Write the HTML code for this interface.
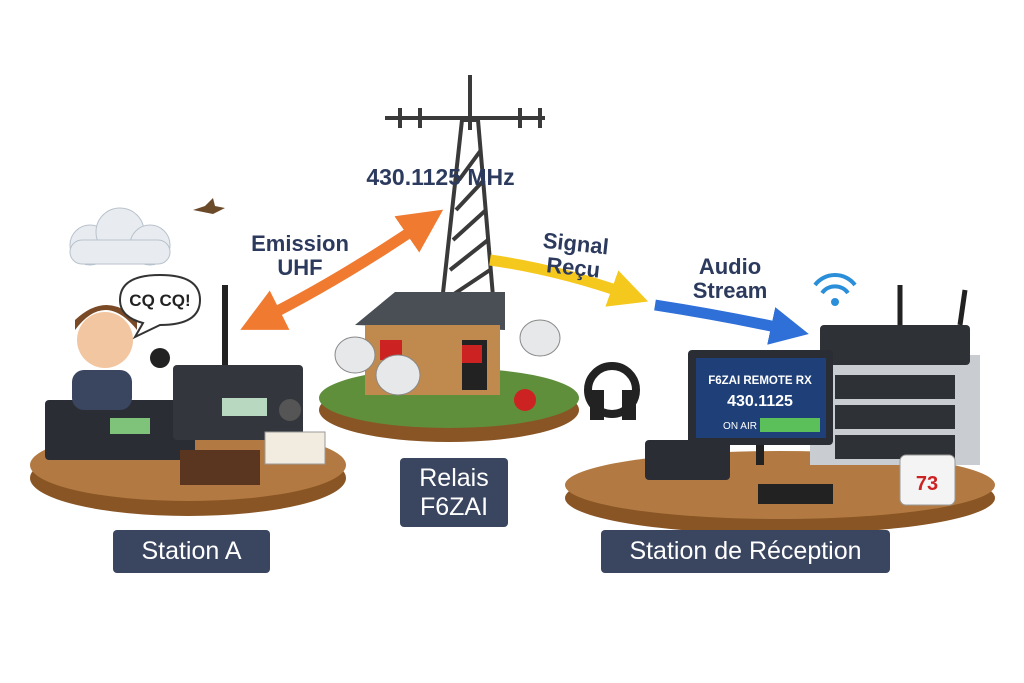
<!DOCTYPE html>
<html><head><meta charset="utf-8"><style>
body{margin:0;width:1024px;height:683px;background:#fff;overflow:hidden;position:relative;font-family:"Liberation Sans",sans-serif}
.lbl{position:absolute;background:#3a4560;color:#fff;border-radius:4px;font-size:25px;display:flex;align-items:center;justify-content:center;text-align:center;line-height:29px}
.t{position:absolute;color:#2c3a5e;font-weight:bold;font-size:22px;line-height:24px;text-align:center}
</style></head><body>
<svg width="1024" height="683" style="position:absolute;left:0;top:0">
<g fill="#e8ecf0" stroke="#b8c2cc"><circle cx="90" cy="245" r="20"/><circle cx="120" cy="232" r="24"/><circle cx="150" cy="245" r="20"/><rect x="70" y="240" width="100" height="24" rx="12"/></g>
<path d="M193 210 l12 -4 l8 -8 l2 8 l10 2 l-12 6 z" fill="#6b4a2a"/>
<ellipse cx="188" cy="478" rx="158" ry="38" fill="#8a5524"/><ellipse cx="188" cy="465" rx="158" ry="36" fill="#b27a42"/>
<ellipse cx="449" cy="410" rx="130" ry="32" fill="#8a5524"/><ellipse cx="449" cy="398" rx="130" ry="30" fill="#5f8f3a"/>
<ellipse cx="780" cy="498" rx="215" ry="36" fill="#8a5524"/><ellipse cx="780" cy="485" rx="215" ry="34" fill="#b27a42"/>
<rect x="45" y="400" width="150" height="60" rx="4" fill="#2a2d33"/><rect x="110" y="418" width="40" height="16" fill="#7fc27a"/>
<rect x="173" y="365" width="130" height="75" rx="4" fill="#33363c"/><rect x="222" y="398" width="45" height="18" fill="#b8d8c0"/><circle cx="290" cy="410" r="11" fill="#555"/>
<line x1="225" y1="285" x2="225" y2="365" stroke="#222" stroke-width="6"/>
<rect x="180" y="450" width="80" height="35" fill="#5a3520"/><rect x="265" y="432" width="60" height="32" fill="#f2ece0" stroke="#999"/>
<circle cx="105" cy="340" r="28" fill="#f2c6a0"/><path d="M75 330 q30 -40 62 0 l0-10 q-30-30-62 0z" fill="#7a4a26"/>
<rect x="72" y="370" width="60" height="40" rx="12" fill="#3a4560"/>
<circle cx="160" cy="358" r="10" fill="#222"/>
<path d="M120 300 q0 -25 40 -25 q40 0 40 25 q0 25 -40 25 l-25 12 8 -14 q-23 -6 -23 -23z" fill="#fff" stroke="#333" stroke-width="2"/>
<text x="160" y="306" font-family="Liberation Sans" font-weight="bold" font-size="17" text-anchor="middle" fill="#222">CQ CQ!</text>
<g stroke="#3a3a3a" stroke-width="4" fill="none"><path d="M440 320 L462 120 L478 120 L495 320"/><path d="M445 300 L490 270 M450 270 L488 240 M453 240 L486 210 M456 210 L484 180 M459 180 L481 150"/>
<line x1="470" y1="75" x2="470" y2="130"/><line x1="385" y1="118" x2="545" y2="118"/><line x1="400" y1="108" x2="400" y2="128"/><line x1="420" y1="108" x2="420" y2="128"/><line x1="520" y1="108" x2="520" y2="128"/><line x1="540" y1="108" x2="540" y2="128"/></g>
<polygon points="355,325 395,292 505,292 505,330" fill="#4a4e55"/>
<rect x="365" y="325" width="135" height="70" fill="#c08a4e"/><rect x="380" y="340" width="22" height="20" fill="#c22"/><rect x="462" y="340" width="25" height="50" fill="#222"/><rect x="462" y="345" width="20" height="18" fill="#c22"/>
<g fill="#e6e8ea" stroke="#888"><ellipse cx="355" cy="355" rx="20" ry="18"/><ellipse cx="398" cy="375" rx="22" ry="20"/><ellipse cx="540" cy="338" rx="20" ry="18"/></g>
<circle cx="525" cy="400" r="11" fill="#c22"/>
<defs><marker id="o" viewBox="0 0 10 10" refX="5" refY="5" markerWidth="4" markerHeight="4" orient="auto-start-reverse"><path d="M0 0L10 5L0 10z" fill="#f07a30"/></marker>
<marker id="y" viewBox="0 0 10 10" refX="5" refY="5" markerWidth="3.5" markerHeight="3.5" orient="auto"><path d="M0 0L10 5L0 10z" fill="#f5c81e"/></marker>
<marker id="b" viewBox="0 0 10 10" refX="5" refY="5" markerWidth="3.5" markerHeight="3.5" orient="auto"><path d="M0 0L10 5L0 10z" fill="#2f6fd8"/></marker></defs>
<path d="M260 320 Q340 280 425 222" stroke="#f07a30" stroke-width="11" fill="none" marker-start="url(#o)" marker-end="url(#o)"/>
<path d="M490 260 Q560 270 630 295" stroke="#f5c81e" stroke-width="11" fill="none" marker-end="url(#y)"/>
<path d="M655 305 Q720 315 790 330" stroke="#2f6fd8" stroke-width="11" fill="none" marker-end="url(#b)"/>
<circle cx="612" cy="390" r="24" fill="none" stroke="#222" stroke-width="8"/><rect x="590" y="390" width="14" height="30" fill="#222"/><rect x="622" y="390" width="14" height="30" fill="#222"/>
<rect x="810" y="355" width="170" height="110" fill="#c9ccd0"/><rect x="820" y="325" width="150" height="40" rx="4" fill="#2e3136"/>
<line x1="900" y1="285" x2="900" y2="325" stroke="#222" stroke-width="5"/><line x1="965" y1="290" x2="960" y2="325" stroke="#222" stroke-width="5"/>
<rect x="835" y="375" width="120" height="24" fill="#2e3136"/><rect x="835" y="405" width="120" height="24" fill="#2e3136"/><rect x="835" y="435" width="120" height="24" fill="#2e3136"/>
<rect x="688" y="350" width="145" height="95" rx="4" fill="#2a2d33"/><rect x="696" y="358" width="130" height="80" fill="#1f3f78"/>
<text x="760" y="384" font-family="Liberation Sans" font-weight="bold" font-size="11.5" fill="#fff" text-anchor="middle">F6ZAI REMOTE RX</text>
<text x="760" y="406" font-family="Liberation Sans" font-weight="bold" font-size="16" fill="#fff" text-anchor="middle">430.1125</text>
<rect x="760" y="418" width="60" height="14" fill="#5cc05a"/><text x="740" y="429" font-family="Liberation Sans" font-size="10" fill="#fff" text-anchor="middle">ON AIR</text>
<line x1="760" y1="445" x2="760" y2="465" stroke="#222" stroke-width="8"/>
<rect x="645" y="440" width="85" height="40" rx="4" fill="#2a2d33"/><rect x="758" y="484" width="75" height="20" fill="#222"/>
<path d="M815 285 a25 25 0 0 1 40 0 M822 293 a16 16 0 0 1 26 0" stroke="#2a8fd8" stroke-width="4" fill="none"/><circle cx="835" cy="302" r="4" fill="#2a8fd8"/>
<rect x="900" y="455" width="55" height="50" rx="6" fill="#f4f4f4" stroke="#999"/>
<text x="927" y="490" font-family="Liberation Sans" font-weight="bold" font-size="20" fill="#c22" text-anchor="middle">73</text>
</svg>
<div class="t" style="left:338px;top:165px;width:205px;font-size:23px">430.1125 MHz</div>
<div class="t" style="left:240px;top:232px;width:120px">Emission<br>UHF</div>
<div class="t" style="left:512px;top:232px;width:125px;transform:rotate(6deg)">Signal Reçu</div>
<div class="t" style="left:680px;top:255px;width:100px">Audio<br>Stream</div>
<div class="lbl" style="left:113px;top:530px;width:157px;height:43px">Station A</div>
<div class="lbl" style="left:400px;top:458px;width:108px;height:69px">Relais<br>F6ZAI</div>
<div class="lbl" style="left:601px;top:530px;width:289px;height:43px">Station de Réception</div>
</body></html>
